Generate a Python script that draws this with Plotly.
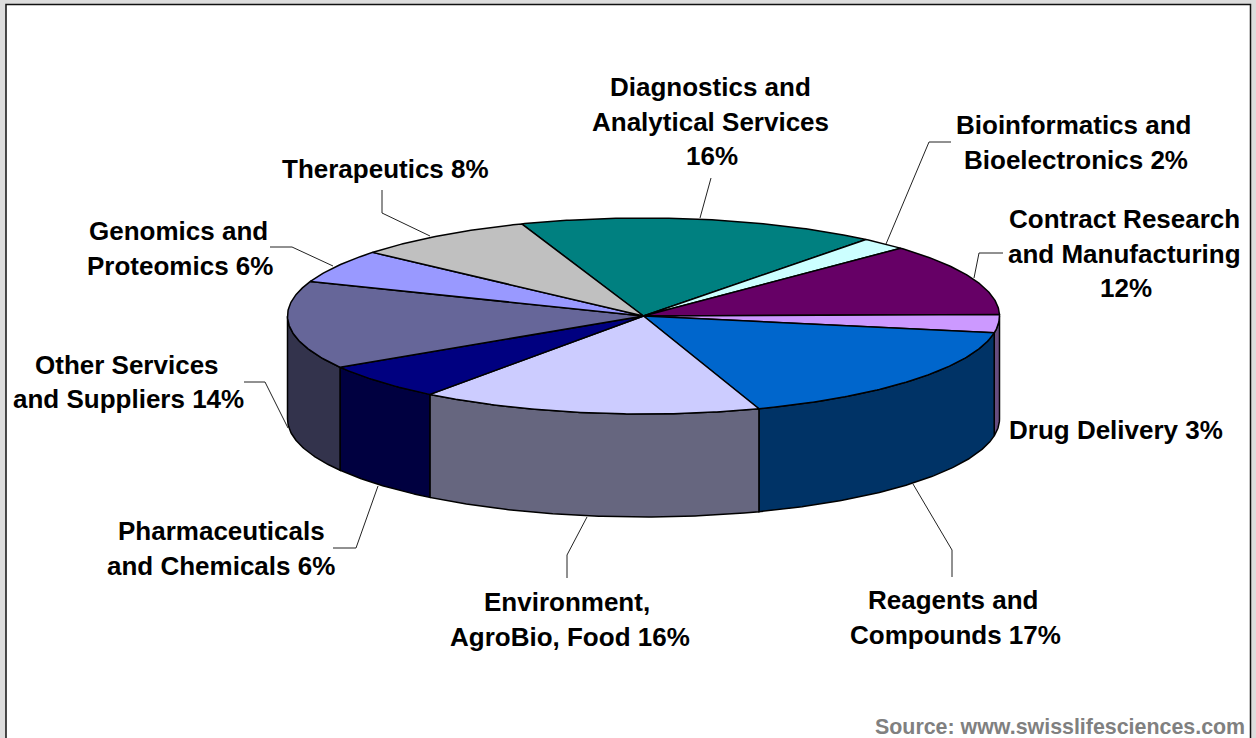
import numpy as np
import plotly.graph_objects as go

# ---- data -------------------------------------------------------------
CATEGORIES = ["Diagnostics and Analytical Services", "Bioinformatics and Bioelectronics",
              "Contract Research and Manufacturing", "Drug Delivery", "Reagents and Compounds",
              "Environment, AgroBio, Food", "Pharmaceuticals and Chemicals",
              "Other Services and Suppliers", "Genomics and Proteomics", "Therapeutics"]
VALUES = [16.3, 2.1, 11.9, 3.0, 17.0, 15.5, 6.0, 14.5, 5.5, 8.2]
COLORS = ["#008080", "#CCFFFF", "#660066", "#CC99FF", "#0066CC",
          "#CCCCFF", "#000080", "#666699", "#9999FF", "#C0C0C0"]
LABEL_LINES = ["Diagnostics and", "Analytical Services", "16%", "Bioinformatics and", "Bioelectronics 2%",
               "Contract Research", "and Manufacturing", "12%", "Drug Delivery 3%",
               "Reagents and", "Compounds 17%", "Environment,", "AgroBio, Food 16%",
               "Pharmaceuticals", "and Chemicals 6%", "Other Services", "and Suppliers 14%",
               "Genomics and", "Proteomics 6%", "Therapeutics 8%"]
SOURCE = "Source: www.swisslifesciences.com"

# ---- layout constants ----------------------------------------------------
W, H = 1256, 738
CX, CY, RX, RY, DEPTH = 643.5, 316, 356, 98, 103
START = -20.0
LABEL_POS = [(710, 87), (710, 122), (712, 156), (1073, 125), (1076, 160),
             (1124, 219), (1124, 254), (1126, 288), (1116, 430),
             (953, 600), (955, 635), (567, 602), (570, 637),
             (221, 531), (221, 566), (127, 365), (128, 399),
             (178, 231), (180, 266), (385, 169)]
LEADERS = [[(711, 178), (700, 218)],
           [(951, 142), (929, 142), (886, 244)],
           [(1003, 253), (979, 253), (974, 278)],
           [(913, 484), (952, 550), (952, 577)],
           [(567, 578), (567, 555), (587, 517)],
           [(333, 548), (356, 548), (378, 486)],
           [(244, 382), (265, 382), (288, 428)],
           [(270, 247), (292, 247), (333, 266)],
           [(382, 190), (382, 213), (430, 236)]]


def arc(a, b, dy=0.0):
    t = np.radians(np.linspace(a, b, max(2, int(abs(b - a) * 2) + 1)))
    return CX + RX * np.sin(t), CY + dy - RY * np.cos(t)


def darker(hex_color):
    r, g, b = (int(hex_color[i:i + 2], 16) for i in (1, 3, 5))
    return f"rgb({r // 2},{g // 2},{b // 2})"


fig = go.Figure()
edges = START + np.cumsum([0] + VALUES) * 3.6

# side walls: only the front half of the rim is visible
for name, col, a, b in zip(CATEGORIES, COLORS, edges[:-1], edges[1:]):
    lo, hi = max(a, 90), min(b, 270)
    if lo >= hi:
        continue
    x1, y1 = arc(lo, hi)
    x2, y2 = arc(hi, lo, DEPTH)
    fig.add_trace(go.Scatter(x=np.r_[x1, x2, x1[0]], y=np.r_[y1, y2, y1[0]], mode="lines",
                             fill="toself", fillcolor=darker(col),
                             line=dict(color="black", width=1.5), name=name, hoverinfo="name"))

# top face
for name, col, a, b in zip(CATEGORIES, COLORS, edges[:-1], edges[1:]):
    x1, y1 = arc(a, b)
    fig.add_trace(go.Scatter(x=np.r_[CX, x1, CX], y=np.r_[CY, y1, CY], mode="lines",
                             fill="toself", fillcolor=col,
                             line=dict(color="black", width=1.5), name=name, hoverinfo="name"))

# leader lines
for pts in LEADERS:
    xs, ys = zip(*pts)
    fig.add_trace(go.Scatter(x=xs, y=ys, mode="lines", line=dict(color="#222222", width=1),
                             hoverinfo="skip"))

annotations = [dict(x=x, y=y, text=t, showarrow=False, xanchor="center", yanchor="middle",
                    font=dict(family="Liberation Sans", size=26, color="black"))
               for t, (x, y) in zip([f"<b>{s}</b>" for s in LABEL_LINES], LABEL_POS)]
annotations.append(dict(x=1247, y=727, text=f"<b>{SOURCE}</b>", showarrow=False, xanchor="right",
                        yanchor="middle", font=dict(family="Liberation Sans", size=21.4, color="#808080")))

fig.update_layout(
    width=W, height=H, margin=dict(l=0, r=0, t=0, b=0), showlegend=False,
    paper_bgcolor="#DDDDDD", plot_bgcolor="#DDDDDD",
    xaxis=dict(range=[0, W], visible=False, fixedrange=True),
    yaxis=dict(range=[H, 0], visible=False, fixedrange=True),
    annotations=annotations,
    shapes=[dict(type="rect", xref="x", yref="y", x0=6, y0=4.5, x1=1250.5, y1=H + 20, layer="below",
                 fillcolor="white", line=dict(color="#111111", width=1.5))],
)
fig.write_html("out.html", config={"displayModeBar": False},
               post_script="document.body.style.margin='0';document.documentElement.style.overflow='hidden';")
